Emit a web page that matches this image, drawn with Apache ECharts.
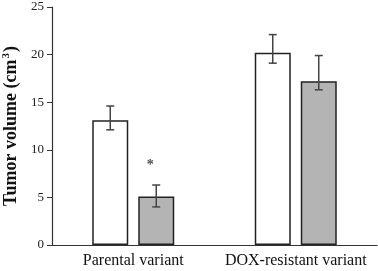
<!DOCTYPE html>
<html>
<head>
<meta charset="utf-8">
<script src="https://cdn.jsdelivr.net/npm/echarts@6/dist/echarts.min.js"></script>
<style>
  html, body { margin: 0; padding: 0; background: #fff; }
  #chart { width: 378px; height: 271px; }
</style>
</head>
<body>
<div id="chart"></div>
<script>
let categories = ['Parental variant', 'DOX-resistant variant'];
// white bars = control, gray bars = treated
let controlMean = [13.1, 20.2];
let controlLow = [12.1, 19.1];
let controlHigh = [14.6, 22.1];
let treatedMean = [5.1, 17.2];
let treatedLow = [4.0, 16.3];
let treatedHigh = [6.3, 19.9];
// significance mark
let starPoints = [['Parental variant', 8.6]];

let myChart = echarts.init(document.getElementById('chart'));
const FONT = '"Liberation Serif", "Times New Roman", serif';
const BAR_W = 36;
const BAR_GAP = 10;

function errorSeries(low, high, side) {
  let data = [];
  for (let i = 0; i < categories.length; i++) {
    data.push([i, low[i], high[i]]);
  }
  return {
    type: 'custom',
    z: 10,
    data: data,
    renderItem: function (params, api) {
      let lo = api.coord([api.value(0), api.value(1)]);
      let hi = api.coord([api.value(0), api.value(2)]);
      let x = lo[0] + side * (BAR_W + BAR_GAP) / 2;
      let cap = 4;
      let style = {stroke: '#444', lineWidth: 1.5};
      return {
        type: 'group',
        children: [
          {type: 'line', shape: {x1: x, y1: hi[1], x2: x, y2: lo[1]}, style: style},
          {type: 'line', shape: {x1: x - cap, y1: hi[1], x2: x + cap, y2: hi[1]}, style: style},
          {type: 'line', shape: {x1: x - cap, y1: lo[1], x2: x + cap, y2: lo[1]}, style: style}
        ]
      };
    }
  };
}

let option = {
  backgroundColor: '#fff',
  animation: false,
  grid: {left: 52, right: 1, top: 7, bottom: 26, containLabel: false, outerBoundsMode: 'none'},
  xAxis: {
    type: 'category',
    data: categories,
    axisLine: {lineStyle: {color: '#333', width: 1.2}},
    axisTick: {show: false},
    axisLabel: {color: '#111', fontFamily: FONT, fontSize: 16, margin: 8, interval: 0}
  },
  yAxis: {
    type: 'value',
    min: 0,
    max: 25,
    interval: 5,
    name: '{a|Tumor volume (cm}{s|3}{a|)}',
    nameLocation: 'middle',
    nameGap: 25,
    nameTextStyle: {
      rich: {
        a: {fontFamily: FONT, fontSize: 18, fontWeight: 'bold', color: '#111'},
        s: {fontFamily: FONT, fontSize: 11, fontWeight: 'bold', color: '#111', verticalAlign: 'top', padding: [0, 1, 9, 1]}
      }
    },
    axisLine: {show: true, lineStyle: {color: '#333', width: 1.2}},
    axisTick: {show: true, length: 5, lineStyle: {color: '#333'}},
    axisLabel: {color: '#222', fontFamily: FONT, fontSize: 13, margin: 8},
    splitLine: {show: false}
  },
  series: [
    {
      type: 'bar',
      data: controlMean,
      barWidth: BAR_W,
      barGap: (BAR_GAP / BAR_W * 100) + '%',
      itemStyle: {color: '#fff', borderColor: '#222', borderWidth: 1.5}
    },
    {
      type: 'bar',
      data: treatedMean,
      barWidth: BAR_W,
      itemStyle: {color: '#b4b4b4', borderColor: '#222', borderWidth: 1.5}
    },
    errorSeries(controlLow, controlHigh, -1),
    errorSeries(treatedLow, treatedHigh, 1),
    {
      type: 'scatter',
      data: starPoints,
      symbolSize: 0,
      z: 11,
      label: {
        show: true,
        position: 'inside',
        formatter: '*',
        offset: [17, 2],
        fontFamily: FONT,
        fontSize: 14,
        fontWeight: 'bold',
        color: '#222'
      }
    }
  ]
};
myChart.setOption(option);
</script>
</body>
</html>
